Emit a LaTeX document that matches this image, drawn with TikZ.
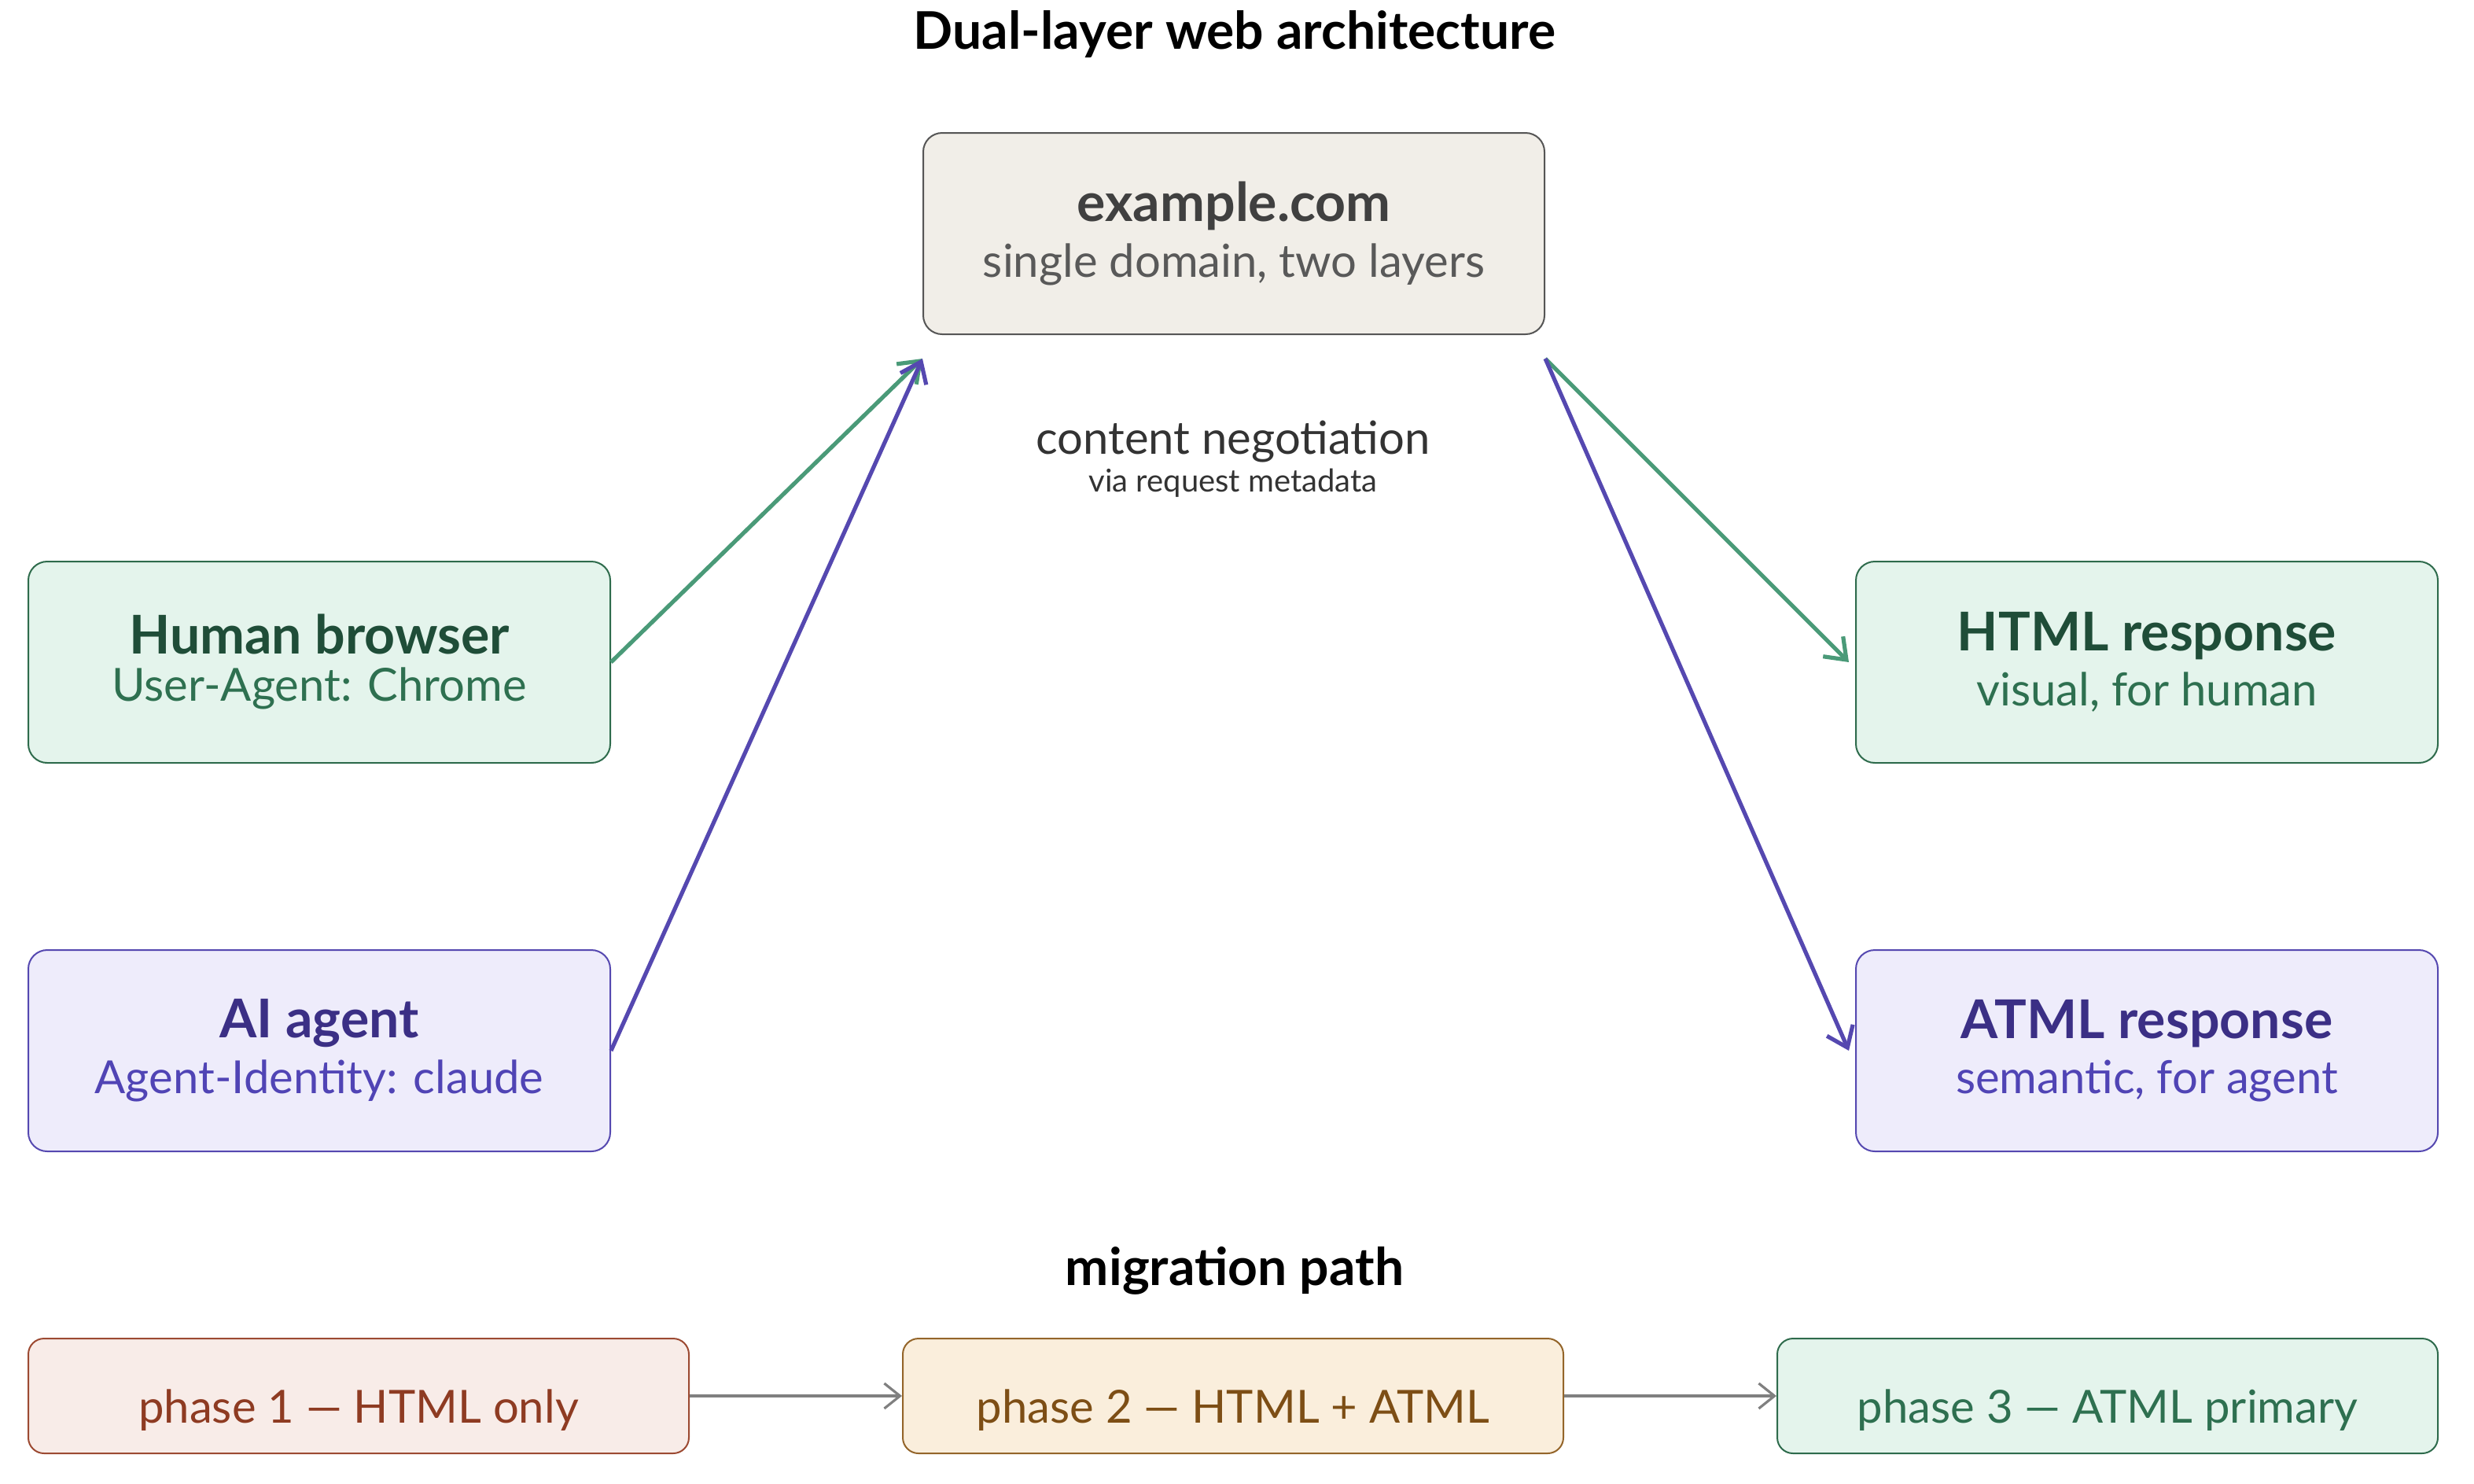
\documentclass[tikz,border=0pt]{standalone}
\usepackage{fontspec}
\setmainfont{Lato}
\usetikzlibrary{arrows.meta}
\definecolor{grnfill}{HTML}{E4F4EC}
\definecolor{grnline}{HTML}{2E6B4C}
\definecolor{grntext}{HTML}{1F4D38}
\definecolor{grnsub}{HTML}{2E7050}
\definecolor{grnarrow}{HTML}{4A9A78}
\definecolor{purfill}{HTML}{EEECFB}
\definecolor{purline}{HTML}{5548B0}
\definecolor{purtext}{HTML}{3B2F85}
\definecolor{pursub}{HTML}{5044B5}
\definecolor{srvfill}{HTML}{F1EEE8}
\definecolor{srvline}{HTML}{555555}
\definecolor{redfill}{HTML}{F8ECE8}
\definecolor{redline}{HTML}{9C4A32}
\definecolor{redtext}{HTML}{8E3B22}
\definecolor{ylwfill}{HTML}{FAEEDC}
\definecolor{ylwline}{HTML}{94652A}
\definecolor{ylwtext}{HTML}{7D4E15}
\tikzset{
  box/.style={draw, rounded corners=6pt, line width=0.5pt, minimum width=185pt, minimum height=64pt, inner sep=0pt},
  phase/.style={draw, rounded corners=5pt, line width=0.5pt, minimum width=210pt, minimum height=36.5pt, inner sep=0pt},
  flow/.style={line width=1.3pt, -{Straight Barb[length=6pt,width=9pt]}},
  phasearrow/.style={line width=0.8pt, draw=gray, -{Straight Barb[length=5pt,width=8pt]}}
}
\newcommand{\boxtext}[2]{{\fontsize{17}{20}\selectfont\bfseries #1}\\[3pt]{\fontsize{14.5}{17}\selectfont #2}}
\begin{document}
\begin{tikzpicture}[x=0.5pt,y=-0.5pt]
\useasboundingbox (0,0) rectangle (1573,943);

\node (title) at (785,22) {\fontsize{16.5}{20}\selectfont\bfseries Dual-layer web architecture};

% Boxes
\node[box, fill=srvfill, draw=srvline, minimum width=197.5pt, text=black!75, align=center] (site) at (784.5,148.5) {\boxtext{example.com}{\color{black!65}single domain, two layers}};
\node[box, fill=grnfill, draw=grnline, text=grntext, align=center] (human) at (203,421) {\boxtext{Human browser}{\color{grnsub}User-Agent: Chrome}};
\node[box, fill=purfill, draw=purline, text=purtext, align=center] (agent) at (203,668) {\boxtext{AI agent}{\color{pursub}Agent-Identity: claude}};
\node[box, fill=grnfill, draw=grnline, text=grntext, align=center] (html) at (1365,421) {\boxtext{HTML response}{\color{grnsub}visual, for human}};
\node[box, fill=purfill, draw=purline, text=purtext, align=center] (atml) at (1365,668) {\boxtext{ATML response}{\color{pursub}semantic, for agent}};

\node[align=center, text=black!80] (nego) at (784,292) {\fontsize{14.5}{19.5}\selectfont content negotiation\\via request metadata};

% Connectors
\draw[flow, grnarrow] (human.east) -- ([yshift=-7.5pt]site.south west);
\draw[flow, purline] (agent.east) -- ([yshift=-7.5pt]site.south west);
\draw[flow, grnarrow] ([yshift=-7.5pt]site.south east) -- ([xshift=-2pt]html.west);
\draw[flow, purline] ([yshift=-7.5pt]site.south east) -- ([xshift=-2pt]atml.west);

% Migration
\node (migr) at (785,808) {\fontsize{16.5}{20}\selectfont\bfseries migration path};
\node[phase, fill=redfill, draw=redline] (p1) at (228,887.5) {};
\node[phase, fill=ylwfill, draw=ylwline] (p2) at (784,887.5) {};
\node[phase, fill=grnfill, draw=grnline] (p3) at (1340,887.5) {};
\node[text=redtext] at ([yshift=-4.5pt]p1.center) {\fontsize{14.5}{17}\selectfont phase 1 --- HTML only};
\node[text=ylwtext] at ([yshift=-4.5pt]p2.center) {\fontsize{14.5}{17}\selectfont phase 2 --- HTML + ATML};
\node[text=grnsub] at ([yshift=-4.5pt]p3.center) {\fontsize{14.5}{17}\selectfont phase 3 --- ATML primary};
\draw[phasearrow] (p1) -- (p2);
\draw[phasearrow] (p2) -- (p3);
\end{tikzpicture}
\end{document}
